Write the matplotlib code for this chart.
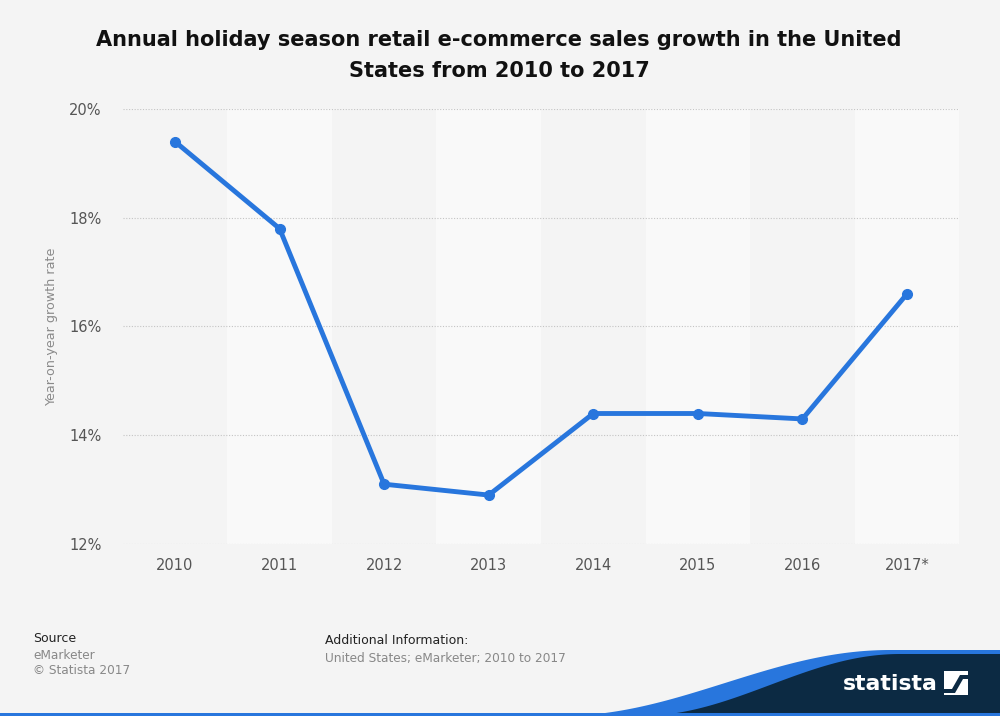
import matplotlib
matplotlib.use("Agg")
import matplotlib.pyplot as plt
from matplotlib.patches import Polygon, Rectangle
import numpy as np

plt.rcParams["font.family"] = ["DejaVu Sans"]

years = ["2010", "2011", "2012", "2013", "2014", "2015", "2016", "2017*"]
growth = [19.4, 17.8, 13.1, 12.9, 14.4, 14.4, 14.3, 16.6]
yticks = [12, 14, 16, 18, 20]
ytick_labels = ["12%", "14%", "16%", "18%", "20%"]

BG = "#f4f4f4"
W, H = 1000, 716
fig = plt.figure(figsize=(10, 7.16), dpi=100, facecolor=BG)
ax = fig.add_axes([0.1227, 0.2402, 0.8366, 0.6076])
ax.set_facecolor(BG)

x = np.arange(len(years))
for i in x:
    if i % 2 == 1:
        ax.axvspan(i - 0.5, i + 0.5, color="#f9f9f9", zorder=0, lw=0)

ax.plot(x, growth, color="#2876dd", lw=3.5, marker="o", ms=7, zorder=3,
        solid_capstyle="round")

ax.set_xlim(-0.5, len(years) - 0.5)
ax.set_ylim(12, 20)
ax.set_yticks(yticks)
ax.set_yticklabels(ytick_labels)
ax.set_xticks(x)
ax.set_xticklabels(years)
ax.yaxis.grid(True, color="#c4c4c4", linestyle=(0, (1, 1.5)), lw=0.8)
ax.set_axisbelow(True)
for s in ax.spines.values():
    s.set_visible(False)
ax.tick_params(axis="both", length=0, labelsize=10.5, labelcolor="#555555")
ax.tick_params(axis="x", pad=10)
ax.tick_params(axis="y", pad=15)
ax.set_ylabel("Year-on-year growth rate", fontsize=9.2, color="#8a8a8a")
ax.yaxis.set_label_coords(-0.0773, 0.5)

fig.text(0.499, 0.922, "Annual holiday season retail e-commerce sales growth in the United\nStates from 2010 to 2017",
         ha="center", va="center", fontsize=15, fontweight="bold", color="#111111",
         linespacing=1.7)

fig.text(0.033, 0.108, "Source", fontsize=9, color="#222222", va="center")
fig.text(0.033, 0.085, "eMarketer", fontsize=8.7, color="#888888", va="center")
fig.text(0.033, 0.063, "\u00a9 Statista 2017", fontsize=8.7, color="#888888", va="center")
fig.text(0.325, 0.105, "Additional Information:", fontsize=9, color="#222222", va="center")
fig.text(0.325, 0.080, "United States; eMarketer; 2010 to 2017", fontsize=8.7, color="#888888", va="center")

# logo band
def curve(x0, x1, ybot, ytop, n=80):
    t = np.linspace(0, 1, n)
    xs = x0 + t * (x1 - x0)
    s = 0.5 - 0.5 * np.cos(np.pi * t)
    ys = ybot + (ytop - ybot) * s
    pts = [(xx / W, 1 - yy / H) for xx, yy in zip(xs, ys)]
    return pts

blue = [(560 / W, 0)] + curve(560, 890, 716, 650) + [(1, 1 - 650 / H), (1, 0)]
fig.patches.append(Polygon(blue, closed=True, transform=fig.transFigure, color="#2876dd", lw=0, zorder=1))
dark = [(640 / W, 0)] + curve(640, 900, 716, 654) + [(1, 1 - 654 / H), (1, 0)]
fig.patches.append(Polygon(dark, closed=True, transform=fig.transFigure, color="#0c2a43", lw=0, zorder=2))
fig.patches.append(Rectangle((0, 0), 1, 3.5 / H, transform=fig.transFigure, color="#2876dd", lw=0, zorder=3))
fig.text(890 / W, 1 - 684 / H, "statista", fontsize=15.8, fontweight="bold", color="white",
         ha="center", va="center", zorder=5)
fig.patches.append(Rectangle((944 / W, 1 - 695 / H), 24 / W, 24 / H, transform=fig.transFigure,
                             color="white", lw=0, zorder=4))
icon = [(944, 689), (952, 689), (960, 675), (968, 675), (968, 679), (963, 679), (955, 693), (944, 693)]
fig.patches.append(Polygon([(a / W, 1 - b / H) for a, b in icon], closed=True, transform=fig.transFigure,
                           color="#0c2a43", lw=0, zorder=5))

fig.savefig("out.png", dpi=100, facecolor=BG)
